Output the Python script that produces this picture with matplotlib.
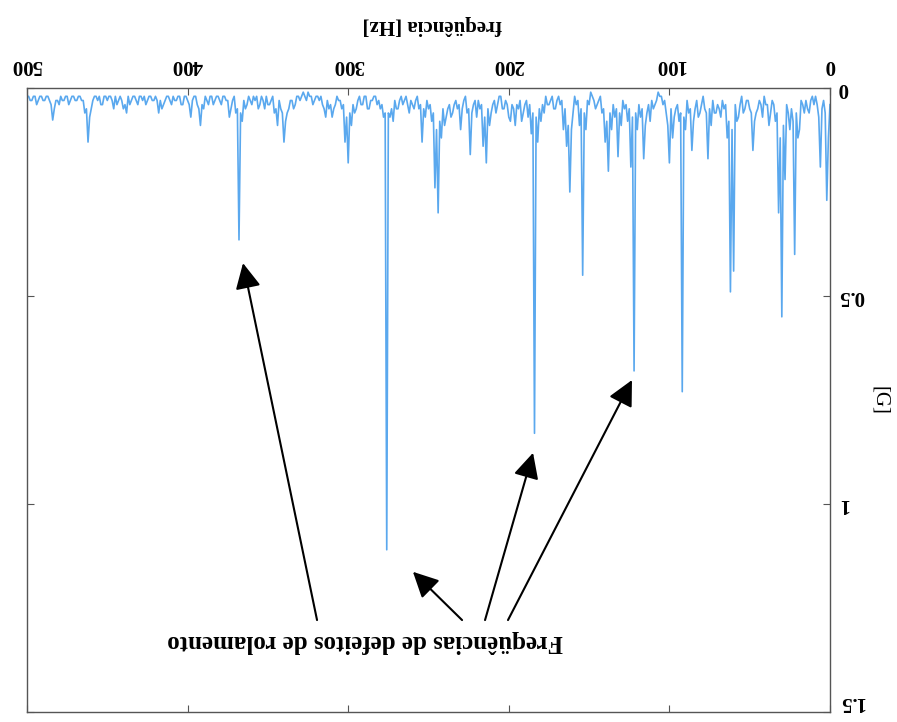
import numpy as np
import matplotlib
matplotlib.use("Agg")
import matplotlib.pyplot as plt

plt.rcParams["font.family"] = ["Liberation Serif", "DejaVu Serif"]

# ---------------------- data ----------------------
# spectrum sampled every 1 Hz, 0..500 Hz, amplitude in G (one row = 10 Hz)
FREQ_STEP = 1.0
AMP = [
    0.04, 0.12, 0.27, 0.06, 0.03, 0.05, 0.19, 0.07, 0.04, 0.02,    # 0
    0.04, 0.02, 0.03, 0.06, 0.05, 0.03, 0.06, 0.04, 0.03, 0.10,    # 10
    0.12, 0.06, 0.40, 0.08, 0.05, 0.10, 0.06, 0.04, 0.22, 0.09,    # 20
    0.55, 0.12, 0.30, 0.06, 0.08, 0.04, 0.03, 0.06, 0.09, 0.04,    # 30
    0.04, 0.02, 0.07, 0.04, 0.03, 0.05, 0.06, 0.08, 0.15, 0.06,    # 40
    0.05, 0.03, 0.03, 0.05, 0.06, 0.02, 0.04, 0.07, 0.08, 0.04,    # 50
    0.44, 0.10, 0.49, 0.08, 0.12, 0.04, 0.05, 0.03, 0.07, 0.05,    # 60
    0.04, 0.06, 0.06, 0.03, 0.09, 0.05, 0.17, 0.06, 0.05, 0.02,    # 70
    0.04, 0.06, 0.07, 0.03, 0.05, 0.08, 0.15, 0.05, 0.06, 0.03,    # 80
    0.10, 0.07, 0.73, 0.06, 0.08, 0.04, 0.05, 0.07, 0.12, 0.05,    # 90
    0.18, 0.09, 0.06, 0.03, 0.04, 0.02, 0.02, 0.01, 0.03, 0.04,    # 100
    0.05, 0.03, 0.08, 0.04, 0.06, 0.09, 0.17, 0.05, 0.07, 0.04,    # 110
    0.10, 0.06, 0.68, 0.07, 0.19, 0.05, 0.08, 0.04, 0.05, 0.03,    # 120
    0.09, 0.06, 0.165, 0.05, 0.07, 0.04, 0.10, 0.06, 0.20, 0.08,   # 130
    0.13, 0.05, 0.06, 0.02, 0.03, 0.04, 0.05, 0.03, 0.02, 0.01,    # 140
    0.04, 0.03, 0.10, 0.06, 0.45, 0.05, 0.09, 0.03, 0.04, 0.02,    # 150
    0.06, 0.10, 0.25, 0.09, 0.14, 0.05, 0.10, 0.03, 0.04, 0.02,    # 160
    0.03, 0.05, 0.05, 0.02, 0.03, 0.04, 0.04, 0.02, 0.06, 0.04,    # 170
    0.08, 0.05, 0.13, 0.07, 0.83, 0.06, 0.11, 0.04, 0.07, 0.03,    # 180
    0.04, 0.06, 0.08, 0.03, 0.05, 0.04, 0.09, 0.05, 0.04, 0.08,    # 190
    0.07, 0.04, 0.03, 0.05, 0.05, 0.02, 0.02, 0.04, 0.06, 0.03,    # 200
    0.04, 0.06, 0.09, 0.05, 0.18, 0.07, 0.14, 0.04, 0.05, 0.03,    # 210
    0.07, 0.03, 0.04, 0.06, 0.16, 0.05, 0.06, 0.02, 0.03, 0.05,    # 220
    0.10, 0.04, 0.05, 0.03, 0.04, 0.06, 0.07, 0.04, 0.05, 0.07,    # 230
    0.09, 0.05, 0.12, 0.08, 0.30, 0.10, 0.24, 0.06, 0.08, 0.04,    # 240
    0.05, 0.03, 0.07, 0.05, 0.13, 0.04, 0.05, 0.02, 0.03, 0.05,    # 250
    0.04, 0.03, 0.06, 0.04, 0.02, 0.03, 0.04, 0.02, 0.03, 0.05,    # 260
    0.05, 0.03, 0.08, 0.05, 0.07, 0.06, 1.11, 0.06, 0.07, 0.04,    # 270
    0.05, 0.03, 0.04, 0.02, 0.02, 0.03, 0.03, 0.05, 0.05, 0.02,    # 280
    0.02, 0.04, 0.04, 0.02, 0.03, 0.05, 0.06, 0.04, 0.09, 0.06,    # 290
    0.18, 0.07, 0.13, 0.04, 0.05, 0.03, 0.03, 0.02, 0.04, 0.05,    # 300
    0.07, 0.04, 0.05, 0.03, 0.07, 0.05, 0.04, 0.02, 0.03, 0.02,    # 310
    0.02, 0.03, 0.04, 0.02, 0.02, 0.01, 0.03, 0.02, 0.01, 0.02,    # 320
    0.03, 0.02, 0.02, 0.04, 0.05, 0.03, 0.03, 0.05, 0.06, 0.08,    # 330
    0.13, 0.06, 0.05, 0.03, 0.09, 0.05, 0.06, 0.02, 0.03, 0.04,    # 340
    0.04, 0.02, 0.05, 0.03, 0.02, 0.04, 0.05, 0.02, 0.03, 0.02,    # 350
    0.04, 0.03, 0.02, 0.04, 0.05, 0.03, 0.08, 0.06, 0.365, 0.05,   # 360
    0.06, 0.02, 0.03, 0.05, 0.07, 0.03, 0.03, 0.02, 0.02, 0.04,    # 370
    0.03, 0.02, 0.02, 0.03, 0.04, 0.02, 0.02, 0.04, 0.03, 0.02,    # 380
    0.05, 0.04, 0.09, 0.05, 0.04, 0.02, 0.02, 0.03, 0.07, 0.04,    # 390
    0.03, 0.02, 0.02, 0.04, 0.04, 0.02, 0.02, 0.03, 0.03, 0.02,    # 400
    0.04, 0.03, 0.02, 0.02, 0.03, 0.04, 0.05, 0.03, 0.06, 0.03,    # 410
    0.02, 0.03, 0.03, 0.02, 0.02, 0.03, 0.04, 0.02, 0.03, 0.02,    # 420
    0.02, 0.04, 0.03, 0.02, 0.02, 0.03, 0.04, 0.02, 0.06, 0.04,    # 430
    0.05, 0.03, 0.02, 0.03, 0.04, 0.02, 0.05, 0.03, 0.02, 0.02,    # 440
    0.03, 0.02, 0.02, 0.04, 0.04, 0.02, 0.03, 0.02, 0.02, 0.03,    # 450
    0.05, 0.07, 0.13, 0.05, 0.06, 0.03, 0.03, 0.02, 0.02, 0.03,    # 460
    0.03, 0.02, 0.02, 0.03, 0.04, 0.02, 0.02, 0.03, 0.03, 0.02,    # 470
    0.04, 0.03, 0.03, 0.05, 0.077, 0.04, 0.03, 0.02, 0.02, 0.03,   # 480
    0.03, 0.02, 0.02, 0.03, 0.04, 0.02, 0.02, 0.03, 0.03, 0.02,    # 490
    0.02,                                                          # 500
]

X_TICKS = [0, 100, 200, 300, 400, 500]
Y_TICKS = [0, 0.5, 1, 1.5]
Y_TICK_LABELS = ["0", "0.5", "1", "1.5"]

# arrows: (tail freq, tail amp) -> (tip freq, tip amp)
ARROW_TAILS = [(319.4, 1.279), (229.1, 1.279), (214.8, 1.279), (200.5, 1.279)]
ARROW_TIPS = [(365.5, 0.421), (259.7, 1.163), (184.9, 0.877), (123.3, 0.702)]
NOTE_TEXT = "Freqüências de defeitos de rolamento"
NOTE_POS = (289.5, 1.33)

LINE_COLOR = "#5aa8ee"
SPINE_COLOR = "#555555"

# ---------------------- figure ----------------------
W, H = 897, 722
fig = plt.figure(figsize=(W / 100, H / 100), dpi=100)
ax = fig.add_axes([27 / W, 1 - 712 / H, (830 - 27) / W, (712 - 88) / H])

amp = np.array(AMP)
freq = np.arange(len(amp)) * FREQ_STEP
ax.plot(freq, amp, color=LINE_COLOR, lw=1.2)

# the whole chart is shown rotated by 180 degrees
ax.set_xlim(500, 0)
ax.set_ylim(1.5, 0)

ax.xaxis.tick_top()
ax.xaxis.set_label_position("top")
ax.yaxis.tick_right()
ax.yaxis.set_label_position("right")
ax.set_xticks(X_TICKS)
ax.set_xticklabels([str(t) for t in X_TICKS], fontweight="bold")
ax.set_yticks(Y_TICKS)
ax.set_yticklabels(Y_TICK_LABELS, fontweight="bold")

ax.tick_params(axis="both", direction="in", length=5, width=0.8, color=SPINE_COLOR,
               top=True, bottom=True, left=True, right=True,
               labeltop=True, labelbottom=False, labelleft=False, labelright=True,
               labelsize=15, labelrotation=180)
ax.tick_params(axis="x", pad=9)
ax.tick_params(axis="y", pad=6)
for lbl in ax.get_yticklabels():
    lbl.set_va("center")
ax.get_yticklabels()[-1].set_va("bottom")

for sp in ax.spines.values():
    sp.set_color(SPINE_COLOR)
    sp.set_linewidth(1.0)

ax.set_xlabel("freqüência [Hz]", fontsize=15, fontweight="bold", rotation=180)
ax.xaxis.set_label_coords(0.5050, 1 + (88 - 30) / (712 - 88), transform=ax.transAxes)
ax.set_ylabel("[G]", fontsize=15, rotation=270, va="center")
ax.yaxis.set_label_coords(1 + (879 - 830) / (830 - 27), (712 - 400) / (712 - 88))

for (tx, ty), (hx, hy) in zip(ARROW_TAILS, ARROW_TIPS):
    ax.annotate("", xy=(hx, hy), xytext=(tx, ty),
                arrowprops=dict(arrowstyle="-|>,head_length=0.6,head_width=0.3",
                                color="black", lw=1.5, mutation_scale=26,
                                shrinkA=0, shrinkB=0))

ax.text(NOTE_POS[0], NOTE_POS[1], NOTE_TEXT, fontsize=18, fontweight="bold",
        rotation=180, ha="center", va="center")

fig.savefig("out.png", dpi=100)
